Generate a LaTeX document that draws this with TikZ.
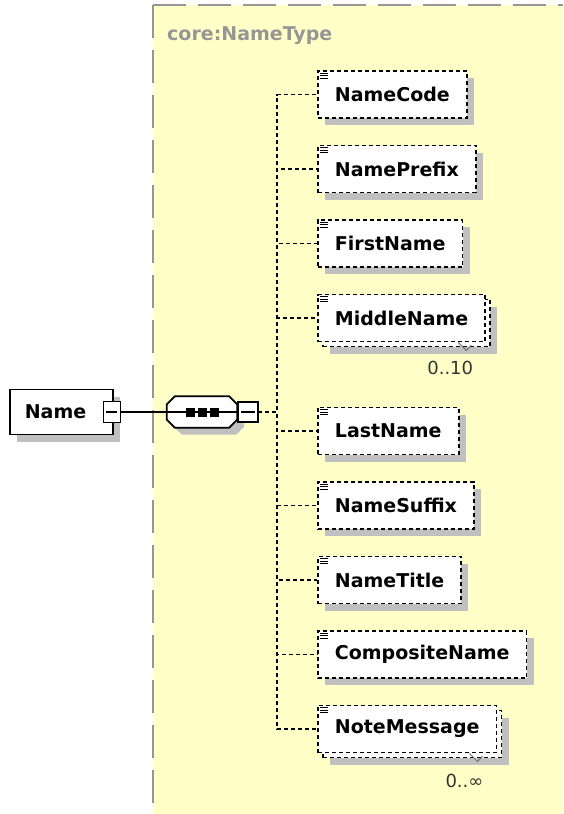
\documentclass[tikz,border=0pt]{standalone}
\usepackage{fontspec}
\setmainfont{DejaVu Sans}
\usetikzlibrary{shadows}

\definecolor{typefill}{RGB}{255,255,200}
\definecolor{typeline}{RGB}{150,150,150}
\definecolor{shadowgray}{RGB}{192,192,192}

\tikzset{
  boxfont/.style={font=\bfseries\fontsize{19}{22}\selectfont},
  boxshadow/.style={drop shadow={shadow xshift=#1, shadow yshift=-#1, fill=shadowgray, opacity=1}},
  elembase/.style={draw, fill=white, anchor=west, line width=1.8pt,
    dash pattern=on 4pt off 3pt, inner xsep=17pt, minimum height=47pt, boxfont},
  elem/.style={elembase, boxshadow=7pt},
  elemmulti/.style={elembase, boxshadow=12pt,
    copy shadow={shadow xshift=5pt, shadow yshift=-5pt, fill=white, draw=black,
      line width=1.8pt, dash pattern=on 4pt off 3pt, opacity=1}},
  namebox/.style={draw, fill=white, solid, line width=1.8pt, minimum width=103pt,
    minimum height=45pt, inner sep=0pt, boxfont, boxshadow=7pt},
  seqbox/.style={draw=none, minimum width=70pt, minimum height=31pt, inner sep=0pt},
  seqline/.style={draw, solid, fill=white, line width=1.8pt},
  minusbox/.style={draw, solid, fill=white, line width=1.8pt, minimum width=17pt,
    minimum height=21pt, inner sep=0pt,
    path picture={\draw[solid, line width=1.5pt] ([xshift=3pt]path picture bounding box.west)
      -- ([xshift=-3pt]path picture bounding box.east);}},
  typelabel/.style={text=typeline, boxfont, inner sep=0pt},
  occurs/.style={font=\fontsize{18}{20}\selectfont, text=black!80, inner sep=0pt}
}

\begin{document}
\begin{tikzpicture}[x=1pt, y=-1pt, grow'=right,
    edge from parent/.style={draw, solid, line width=1.8pt},
    level 1/.style={level distance=140.5pt,
      edge from parent path={(\tikzparentnode.east) -- (\tikzchildnode.west)}},
    level 2/.style={level distance=115pt, sibling distance=74.5pt,
      edge from parent/.style={draw, line width=1.8pt, dash pattern=on 4pt off 3pt},
      edge from parent path={(\tikzparentnode.east) -- ++(40pt,0pt) |- (\tikzchildnode.west)}}]
  \useasboundingbox (0,0) rectangle (563,814);

  % complex type background
  \fill[typefill] (153,5) rectangle (563,814);
  \draw[typeline, line width=2.5pt, dash pattern=on 33pt off 12pt] (153,5) -- (563,5);
  \draw[typeline, line width=2.5pt, dash pattern=on 33pt off 12pt] (153,5) -- (153,814);
  \node[typelabel, anchor=base west] (typename) at (167,40) {core:NameType};

  \node[namebox] (name) at (61.5,412) {Name\kern12pt}
    child {node[seqbox] (seq) {}
      child[yshift=19.5pt] {node[elem] (code) {NameCode}}
      child[yshift=19.5pt] {node[elem] (prefix) {NamePrefix}}
      child[yshift=19.5pt] {node[elem] (first) {FirstName}}
      child[yshift=19.5pt] {node[elemmulti] (middle) {MiddleName}}
      child[yshift=-19pt] {node[elem] (last) {LastName}}
      child[yshift=-19pt] {node[elem] (suffix) {NameSuffix}}
      child[yshift=-19pt] {node[elem] (title) {NameTitle}}
      child[yshift=-19pt] {node[elem] (composite) {CompositeName}}
      child[yshift=-19pt] {node[elemmulti] (note) {NoteMessage}}
    };

  % sequence compositor
  \path[seqline, boxshadow=7pt] ([xshift=8pt]seq.north west) -- ([xshift=-8pt]seq.north east)
    -- ([yshift=-8pt]seq.north east) -- ([yshift=8pt]seq.south east)
    -- ([xshift=-8pt]seq.south east) -- ([xshift=8pt]seq.south west)
    -- ([yshift=8pt]seq.south west) -- ([yshift=-8pt]seq.north west) -- cycle;
  \draw[solid, line width=1.8pt] (seq.west) -- (seq.east);
  \foreach \dx in {-12,0,12}
    \fill ([xshift=\dx pt]seq.center) +(-4.5,-4.5) rectangle +(4.5,4.5);

  % collapse boxes
  \node[minusbox] (namemin) at ([xshift=-2pt]name.east) {};
  \node[minusbox, anchor=west, minimum width=20pt, minimum height=20pt] (seqmin) at (seq.east) {};

  % element icons
  \foreach \e in {code,prefix,first,middle,last,suffix,title,composite,note}
    \foreach \dy in {3,5.5,8}
      \draw[solid, line width=0.9pt] ([shift={(3,\dy)}]\e.north west) -- ++(8,0);

  % occurrences
  \draw[solid, line width=1pt, black!55] ([xshift=-28pt]middle.south east) -- ++(8,8) -- ++(5,-5);
  \node[occurs] (middleocc) at ([shift={(-36,26)}]middle.south east) {0..10};
  \draw[solid, line width=1pt, black!55] ([xshift=-28pt]note.south east) -- ++(8,8) -- ++(5,-5);
  \node[occurs] (noteocc) at ([shift={(-33,28)}]note.south east) {0..∞};
\end{tikzpicture}
\end{document}
